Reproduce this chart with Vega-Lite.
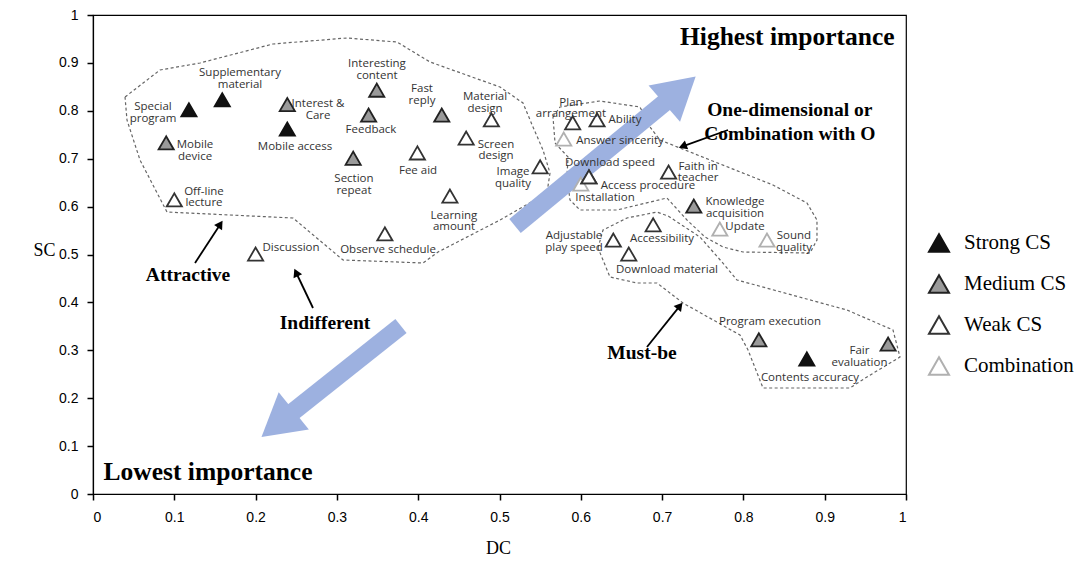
{
  "$schema": "https://vega.github.io/schema/vega-lite/v6.json",
  "width": 813,
  "height": 479,
  "autosize": {"type": "none"},
  "padding": {"left": 93, "top": 15, "right": 178, "bottom": 68},
  "background": "white",
  "config": {
    "view": {"stroke": "#000", "strokeWidth": 1.2},
    "axis": {"grid": false, "domainColor": "#000", "domainWidth": 1.2, "tickColor": "#000", "tickSize": 6, "tickWidth": 1.5, "labelFont": "Liberation Sans", "labelFontSize": 14, "labelColor": "#000", "labelPadding": 9, "titleFont": "Liberation Serif", "titleFontSize": 18, "titleFontWeight": "normal", "titleColor": "#000"}
  },
  "datasets": {
    "pts": [
      {"name": "Special program", "DC": 0.118, "SC": 0.802, "type": "Strong CS", "lx": 0.0738, "ly": 0.8079, "label": "Special\nprogram"},
      {"name": "Supplementary material", "DC": 0.159, "SC": 0.823, "type": "Strong CS", "lx": 0.1808, "ly": 0.8789, "label": "Supplementary\nmaterial"},
      {"name": "Interest & Care", "DC": 0.239, "SC": 0.813, "type": "Medium CS", "lx": 0.2768, "ly": 0.8132, "label": "Interest &\nCare"},
      {"name": "Mobile access", "DC": 0.239, "SC": 0.762, "type": "Strong CS", "lx": 0.2485, "ly": 0.7244, "label": "Mobile access"},
      {"name": "Mobile device", "DC": 0.09, "SC": 0.733, "type": "Medium CS", "lx": 0.1255, "ly": 0.7286, "label": "Mobile\ndevice"},
      {"name": "Off-line lecture", "DC": 0.1, "SC": 0.614, "type": "Weak CS", "lx": 0.1365, "ly": 0.6305, "label": "Off-line\nlecture"},
      {"name": "Interesting content", "DC": 0.349, "SC": 0.843, "type": "Medium CS", "lx": 0.3493, "ly": 0.8977, "label": "Interesting\ncontent"},
      {"name": "Feedback", "DC": 0.339, "SC": 0.791, "type": "Medium CS", "lx": 0.3419, "ly": 0.7599, "label": "Feedback"},
      {"name": "Section repeat", "DC": 0.32, "SC": 0.701, "type": "Medium CS", "lx": 0.321, "ly": 0.6566, "label": "Section\nrepeat"},
      {"name": "Fast reply", "DC": 0.429, "SC": 0.791, "type": "Medium CS", "lx": 0.4047, "ly": 0.8455, "label": "Fast\nreply"},
      {"name": "Fee aid", "DC": 0.399, "SC": 0.712, "type": "Weak CS", "lx": 0.3998, "ly": 0.6743, "label": "Fee aid"},
      {"name": "Material design", "DC": 0.49, "SC": 0.781, "type": "Weak CS", "lx": 0.4822, "ly": 0.8278, "label": "Material\ndesign"},
      {"name": "Screen design", "DC": 0.459, "SC": 0.743, "type": "Weak CS", "lx": 0.4957, "ly": 0.7296, "label": "Screen\ndesign"},
      {"name": "Image quality", "DC": 0.55, "SC": 0.683, "type": "Weak CS", "lx": 0.5166, "ly": 0.6712, "label": "Image\nquality"},
      {"name": "Learning amount", "DC": 0.439, "SC": 0.622, "type": "Weak CS", "lx": 0.444, "ly": 0.5814, "label": "Learning\namount"},
      {"name": "Observe schedule", "DC": 0.359, "SC": 0.543, "type": "Weak CS", "lx": 0.3629, "ly": 0.5094, "label": "Observe schedule"},
      {"name": "Discussion", "DC": 0.2, "SC": 0.501, "type": "Weak CS", "lx": 0.2435, "ly": 0.5136, "label": "Discussion"},
      {"name": "Plan arrangement", "DC": 0.59, "SC": 0.775, "type": "Weak CS", "lx": 0.5879, "ly": 0.8173, "label": "Plan\narrangement"},
      {"name": "Ability", "DC": 0.62, "SC": 0.781, "type": "Weak CS", "lx": 0.6544, "ly": 0.7808, "label": "Ability"},
      {"name": "Answer sincerity", "DC": 0.579, "SC": 0.741, "type": "Combination", "lx": 0.6482, "ly": 0.737, "label": "Answer sincerity"},
      {"name": "Installation", "DC": 0.6, "SC": 0.647, "type": "Combination", "lx": 0.6298, "ly": 0.618, "label": "Installation"},
      {"name": "Download speed", "DC": 0.61, "SC": 0.662, "type": "Weak CS", "lx": 0.6359, "ly": 0.691, "label": "Download speed"},
      {"name": "Access procedure", "DC": 0.61, "SC": 0.662, "type": "Weak CS", "lx": 0.6827, "ly": 0.643, "label": "Access procedure"},
      {"name": "Faith in teacher", "DC": 0.708, "SC": 0.672, "type": "Weak CS", "lx": 0.7442, "ly": 0.6836, "label": "Faith in\nteacher"},
      {"name": "Knowledge acquisition", "DC": 0.739, "SC": 0.601, "type": "Medium CS", "lx": 0.7897, "ly": 0.6086, "label": "Knowledge\nacquisition"},
      {"name": "Update", "DC": 0.771, "SC": 0.553, "type": "Combination", "lx": 0.802, "ly": 0.5574, "label": "Update"},
      {"name": "Sound quality", "DC": 0.829, "SC": 0.53, "type": "Combination", "lx": 0.8622, "ly": 0.5376, "label": "Sound\nquality"},
      {"name": "Accessibility", "DC": 0.689, "SC": 0.562, "type": "Weak CS", "lx": 0.6999, "ly": 0.5324, "label": "Accessibility"},
      {"name": "Adjustable play speed", "DC": 0.64, "SC": 0.53, "type": "Weak CS", "lx": 0.5916, "ly": 0.5376, "label": "Adjustable\nplay speed"},
      {"name": "Download material", "DC": 0.659, "SC": 0.501, "type": "Weak CS", "lx": 0.706, "ly": 0.4676, "label": "Download material"},
      {"name": "Program execution", "DC": 0.819, "SC": 0.322, "type": "Medium CS", "lx": 0.8327, "ly": 0.3591, "label": "Program execution"},
      {"name": "Contents accuracy", "DC": 0.878, "SC": 0.282, "type": "Strong CS", "lx": 0.8819, "ly": 0.2422, "label": "Contents accuracy"},
      {"name": "Fair evaluation", "DC": 0.978, "SC": 0.313, "type": "Medium CS", "lx": 0.9428, "ly": 0.2975, "label": "Fair\nevaluation"}
    ],
    "regions": [
      {"region": "Attractive", "i": 0, "x": 0.0394, "y": 0.8288},
      {"region": "Attractive", "i": 1, "x": 0.0824, "y": 0.8852},
      {"region": "Attractive", "i": 2, "x": 0.1316, "y": 0.8998},
      {"region": "Attractive", "i": 3, "x": 0.2214, "y": 0.9395},
      {"region": "Attractive", "i": 4, "x": 0.3124, "y": 0.952},
      {"region": "Attractive", "i": 5, "x": 0.3739, "y": 0.9436},
      {"region": "Attractive", "i": 6, "x": 0.4145, "y": 0.9019},
      {"region": "Attractive", "i": 7, "x": 0.5006, "y": 0.8497},
      {"region": "Attractive", "i": 8, "x": 0.5289, "y": 0.8163},
      {"region": "Attractive", "i": 9, "x": 0.5412, "y": 0.7662},
      {"region": "Attractive", "i": 10, "x": 0.5535, "y": 0.7182},
      {"region": "Attractive", "i": 11, "x": 0.5621, "y": 0.6701},
      {"region": "Attractive", "i": 12, "x": 0.5584, "y": 0.6284},
      {"region": "Attractive", "i": 13, "x": 0.5006, "y": 0.572},
      {"region": "Attractive", "i": 14, "x": 0.4244, "y": 0.5052},
      {"region": "Attractive", "i": 15, "x": 0.4059, "y": 0.4823},
      {"region": "Attractive", "i": 16, "x": 0.3075, "y": 0.4885},
      {"region": "Attractive", "i": 17, "x": 0.246, "y": 0.5762},
      {"region": "Attractive", "i": 18, "x": 0.091, "y": 0.5887},
      {"region": "Attractive", "i": 19, "x": 0.0578, "y": 0.6973},
      {"region": "Attractive", "i": 20, "x": 0.0418, "y": 0.7808},
      {"region": "Attractive", "i": 21, "x": 0.0394, "y": 0.8288},
      {"region": "One-dimensional", "i": 0, "x": 0.5658, "y": 0.7871},
      {"region": "One-dimensional", "i": 1, "x": 0.5744, "y": 0.8079},
      {"region": "One-dimensional", "i": 2, "x": 0.6236, "y": 0.8205},
      {"region": "One-dimensional", "i": 3, "x": 0.6728, "y": 0.8079},
      {"region": "One-dimensional", "i": 4, "x": 0.6851, "y": 0.7662},
      {"region": "One-dimensional", "i": 5, "x": 0.6974, "y": 0.739},
      {"region": "One-dimensional", "i": 6, "x": 0.722, "y": 0.7223},
      {"region": "One-dimensional", "i": 7, "x": 0.8364, "y": 0.6451},
      {"region": "One-dimensional", "i": 8, "x": 0.8782, "y": 0.6075},
      {"region": "One-dimensional", "i": 9, "x": 0.8905, "y": 0.572},
      {"region": "One-dimensional", "i": 10, "x": 0.8905, "y": 0.5303},
      {"region": "One-dimensional", "i": 11, "x": 0.8819, "y": 0.5031},
      {"region": "One-dimensional", "i": 12, "x": 0.7995, "y": 0.5052},
      {"region": "One-dimensional", "i": 13, "x": 0.7749, "y": 0.5157},
      {"region": "One-dimensional", "i": 14, "x": 0.7528, "y": 0.5365},
      {"region": "One-dimensional", "i": 15, "x": 0.7306, "y": 0.572},
      {"region": "One-dimensional", "i": 16, "x": 0.706, "y": 0.618},
      {"region": "One-dimensional", "i": 17, "x": 0.6445, "y": 0.5929},
      {"region": "One-dimensional", "i": 18, "x": 0.599, "y": 0.5929},
      {"region": "One-dimensional", "i": 19, "x": 0.5867, "y": 0.6138},
      {"region": "One-dimensional", "i": 20, "x": 0.583, "y": 0.6618},
      {"region": "One-dimensional", "i": 21, "x": 0.5843, "y": 0.7035},
      {"region": "One-dimensional", "i": 22, "x": 0.5683, "y": 0.7328},
      {"region": "One-dimensional", "i": 23, "x": 0.5658, "y": 0.7871},
      {"region": "Must-be", "i": 0, "x": 0.6212, "y": 0.5136},
      {"region": "Must-be", "i": 1, "x": 0.6273, "y": 0.5511},
      {"region": "Must-be", "i": 2, "x": 0.6568, "y": 0.5762},
      {"region": "Must-be", "i": 3, "x": 0.6937, "y": 0.5887},
      {"region": "Must-be", "i": 4, "x": 0.7073, "y": 0.5804},
      {"region": "Must-be", "i": 5, "x": 0.7466, "y": 0.5365},
      {"region": "Must-be", "i": 6, "x": 0.7737, "y": 0.4843},
      {"region": "Must-be", "i": 7, "x": 0.7921, "y": 0.4468},
      {"region": "Must-be", "i": 8, "x": 0.9274, "y": 0.3841},
      {"region": "Must-be", "i": 9, "x": 0.984, "y": 0.3424},
      {"region": "Must-be", "i": 10, "x": 0.9926, "y": 0.286},
      {"region": "Must-be", "i": 11, "x": 0.952, "y": 0.2443},
      {"region": "Must-be", "i": 12, "x": 0.9311, "y": 0.2213},
      {"region": "Must-be", "i": 13, "x": 0.8241, "y": 0.2213},
      {"region": "Must-be", "i": 14, "x": 0.8057, "y": 0.3006},
      {"region": "Must-be", "i": 15, "x": 0.7958, "y": 0.3319},
      {"region": "Must-be", "i": 16, "x": 0.7257, "y": 0.3987},
      {"region": "Must-be", "i": 17, "x": 0.6937, "y": 0.4405},
      {"region": "Must-be", "i": 18, "x": 0.6691, "y": 0.4405},
      {"region": "Must-be", "i": 19, "x": 0.6359, "y": 0.453},
      {"region": "Must-be", "i": 20, "x": 0.6212, "y": 0.5136}
    ],
    "bigArrows": [
      {"name": "higher", "x": 0.5191, "y": 0.5595, "x2": 0.7220, "y2": 0.8434, "hx": 0.722, "hy": 0.8434, "dir": 49},
      {"name": "lower", "x": 0.3788, "y": 0.3507, "x2": 0.2271, "y2": 0.1461, "hx": 0.2271, "hy": 0.1461, "dir": 231}
    ],
    "thinArrows": [
      {"name": "Attractive", "x": 0.1255, "y": 0.4823, "x2": 0.1566, "y2": 0.5633, "dir": 33},
      {"name": "Indifferent", "x": 0.2706, "y": 0.3883, "x2": 0.2498, "y2": 0.4624, "dir": 335},
      {"name": "Must-be", "x": 0.6814, "y": 0.3069, "x2": 0.7219, "y2": 0.3927, "dir": 39},
      {"name": "One-dimensional", "x": 0.7811, "y": 0.7599, "x2": 0.7253, "y2": 0.7259, "dir": 250}
    ]
  },
  "layer": [
    {
      "data": {"name": "regions"},
      "mark": {"type": "line", "color": "#666", "strokeWidth": 1.2, "strokeDash": [3, 2.5], "interpolate": "linear"},
      "encoding": {
        "x": {"field": "x", "type": "quantitative", "scale": {"domain": [0, 1], "nice": false, "zero": false}, "title": "DC",
              "axis": {"values": [0, 0.1, 0.2, 0.3, 0.4, 0.5, 0.6, 0.7, 0.8, 0.9, 1], "format": ".1~f", "labelPadding": 10, "titleAngle": 0, "titleX": 405, "titleY": 54, "titleAlign": "center", "titleBaseline": "middle"}},
        "y": {"field": "y", "type": "quantitative", "scale": {"domain": [0, 1], "nice": false, "zero": false}, "title": "SC",
              "axis": {"values": [0, 0.1, 0.2, 0.3, 0.4, 0.5, 0.6, 0.7, 0.8, 0.9, 1], "format": ".1~f", "labelPadding": 9, "titleAngle": 0, "titleX": -49, "titleY": 235, "titleAlign": "center", "titleBaseline": "middle"}},
        "detail": {"field": "region"},
        "order": {"field": "i", "type": "quantitative"}
      }
    },
    {
      "data": {"name": "bigArrows"},
      "mark": {"type": "rule", "color": "#9DB1E0", "strokeWidth": 18, "strokeCap": "butt"},
      "encoding": {
        "x": {"field": "x", "type": "quantitative", "title": "DC"},
        "y": {"field": "y", "type": "quantitative", "title": "SC"},
        "x2": {"field": "x2"},
        "y2": {"field": "y2"}
      }
    },
    {
      "data": {"name": "bigArrows"},
      "mark": {"type": "point", "shape": "triangle-up", "filled": true, "color": "#9DB1E0", "opacity": 1, "size": 2300},
      "encoding": {
        "x": {"field": "hx", "type": "quantitative", "title": "DC"},
        "y": {"field": "hy", "type": "quantitative", "title": "SC"},
        "angle": {"field": "dir", "type": "quantitative", "scale": null}
      }
    },
    {
      "data": {"name": "thinArrows"},
      "mark": {"type": "rule", "color": "#000", "strokeWidth": 1.8},
      "encoding": {
        "x": {"field": "x", "type": "quantitative", "title": "DC"},
        "y": {"field": "y", "type": "quantitative", "title": "SC"},
        "x2": {"field": "x2"},
        "y2": {"field": "y2"}
      }
    },
    {
      "data": {"name": "thinArrows"},
      "mark": {"type": "point", "shape": "triangle-up", "filled": true, "color": "#000", "opacity": 1, "size": 90},
      "encoding": {
        "x": {"field": "x2", "type": "quantitative", "title": "DC"},
        "y": {"field": "y2", "type": "quantitative", "title": "SC"},
        "angle": {"field": "dir", "type": "quantitative", "scale": null}
      }
    },
    {
      "data": {"name": "pts"},
      "mark": {"type": "point", "shape": "triangle-up", "filled": true, "opacity": 1, "size": 230, "strokeWidth": 1.8},
      "encoding": {
        "x": {"field": "DC", "type": "quantitative", "title": "DC"},
        "y": {"field": "SC", "type": "quantitative", "title": "SC"},
        "fill": {"field": "type", "type": "nominal",
                 "scale": {"domain": ["Strong CS", "Medium CS", "Weak CS", "Combination"], "range": ["#111111", "#9a9a9a", "#ffffff", "#ffffff"]},
                 "legend": {"orient": "none", "legendX": 835, "legendY": 217, "title": null, "labelFont": "Liberation Serif", "labelFontSize": 21, "labelColor": "#000", "symbolSize": 400, "symbolType": "triangle-up", "symbolStrokeWidth": 2, "rowPadding": 15, "labelOffset": 14, "padding": 0}},
        "stroke": {"field": "type", "type": "nominal",
                 "scale": {"domain": ["Strong CS", "Medium CS", "Weak CS", "Combination"], "range": ["#111111", "#222222", "#333333", "#b0b0b0"]},
                 "legend": {"orient": "none", "legendX": 835, "legendY": 217, "title": null, "labelFont": "Liberation Serif", "labelFontSize": 21, "labelColor": "#000", "symbolSize": 400, "symbolType": "triangle-up", "symbolStrokeWidth": 2, "rowPadding": 15, "labelOffset": 14, "padding": 0}}
      }
    },
    {
      "data": {"name": "pts"},
      "mark": {"type": "text", "font": "Open Sans", "fontSize": 11.5, "color": "#333", "align": "center", "baseline": "middle", "lineBreak": "\n", "lineHeight": 11.5},
      "encoding": {
        "x": {"field": "lx", "type": "quantitative", "title": "DC"},
        "y": {"field": "ly", "type": "quantitative", "title": "SC"},
        "text": {"field": "label"}
      }
    },
    {
      "data": {"values": [
        {"t": "Highest importance", "x": 0.854, "y": 0.954},
        {"t": "Lowest importance", "x": 0.1415, "y": 0.0459}
      ]},
      "mark": {"type": "text", "font": "Liberation Serif", "fontSize": 25.5, "fontWeight": "bold", "color": "#000", "align": "center", "baseline": "middle"},
      "encoding": {
        "x": {"field": "x", "type": "quantitative", "title": "DC"},
        "y": {"field": "y", "type": "quantitative", "title": "SC"},
        "text": {"field": "t"}
      }
    },
    {
      "data": {"values": [
        {"t": "One-dimensional or\nCombination with O", "x": 0.857, "y": 0.802}
      ]},
      "mark": {"type": "text", "font": "Liberation Serif", "fontSize": 19.5, "fontWeight": "bold", "color": "#000", "align": "center", "baseline": "middle", "lineBreak": "\n", "lineHeight": 24},
      "encoding": {
        "x": {"field": "x", "type": "quantitative", "title": "DC"},
        "y": {"field": "y", "type": "quantitative", "title": "SC"},
        "text": {"field": "t"}
      }
    },
    {
      "data": {"values": [
        {"t": "Attractive", "x": 0.1169, "y": 0.4572},
        {"t": "Indifferent", "x": 0.2854, "y": 0.357},
        {"t": "Must-be", "x": 0.6753, "y": 0.2944}
      ]},
      "mark": {"type": "text", "font": "Liberation Serif", "fontSize": 19.5, "fontWeight": "bold", "color": "#000", "align": "center", "baseline": "middle"},
      "encoding": {
        "x": {"field": "x", "type": "quantitative", "title": "DC"},
        "y": {"field": "y", "type": "quantitative", "title": "SC"},
        "text": {"field": "t"}
      }
    }
  ]
}
